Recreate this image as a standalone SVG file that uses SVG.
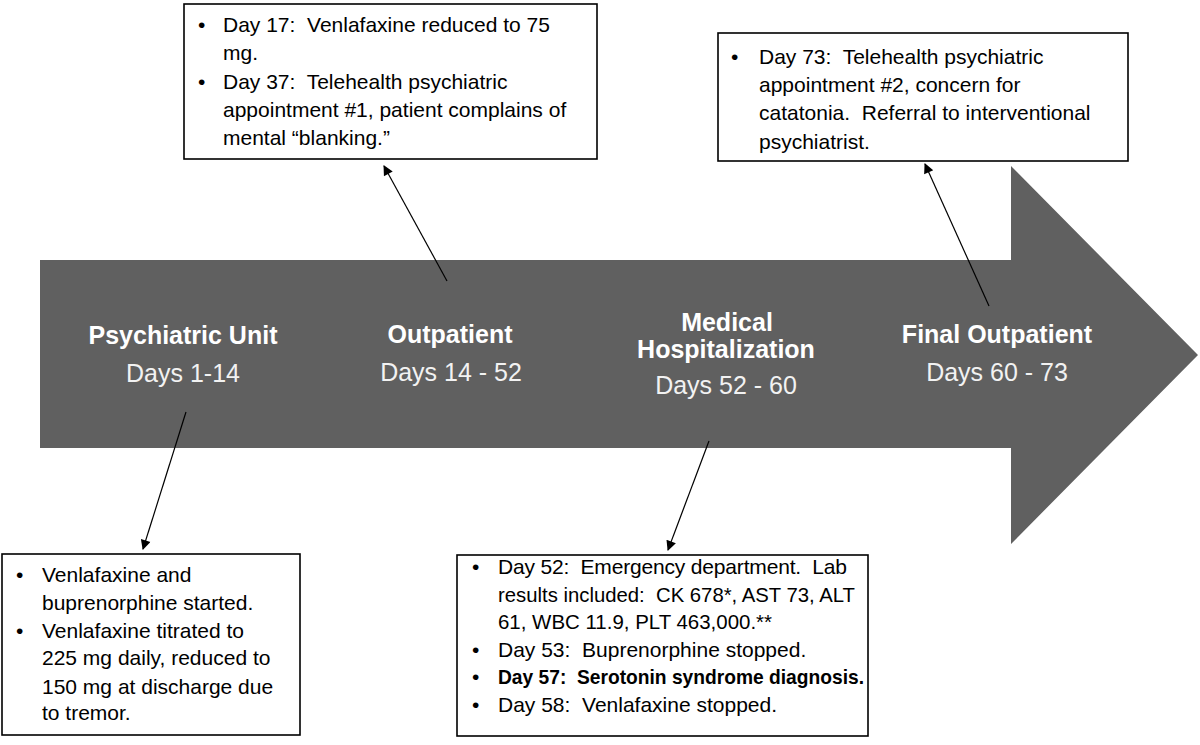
<svg xmlns="http://www.w3.org/2000/svg" width="1200" height="745" viewBox="0 0 1200 745">
<style>
.box{fill:#fff;stroke:#000;stroke-width:1.6}
.t{font-family:"Liberation Sans",Arial,sans-serif;font-size:21px;fill:#000;white-space:pre}
.b{font-weight:bold}
.h{font-family:"Liberation Sans",Arial,sans-serif;font-size:25px;font-weight:bold;fill:#fff;text-anchor:middle}
.d{font-family:"Liberation Sans",Arial,sans-serif;font-size:25px;fill:#f2f2f2;text-anchor:middle}
.c{stroke:#000;stroke-width:1.2;fill:none;marker-end:url(#ah)}
</style>
<defs>
<marker id="ah" viewBox="0 0 10 10" refX="9" refY="5" markerWidth="13" markerHeight="10" markerUnits="userSpaceOnUse" orient="auto">
<path d="M0,0 L10,5 L0,10 z" fill="#000"/>
</marker>
</defs>
<rect width="1200" height="745" fill="#fff"/>
<g id="timeline">
<polygon points="40,260 1011,260 1011,166 1198,355 1011,544 1011,448 40,448" fill="#606060"/>
<text class="h" x="183" y="344">Psychiatric Unit</text>
<text class="d" x="183" y="382">Days 1-14</text>
<text class="h" x="450" y="343">Outpatient</text>
<text class="d" x="451" y="381">Days 14 - 52</text>
<text class="h" x="727" y="331">Medical</text>
<text class="h" x="726" y="358">Hospitalization</text>
<text class="d" x="726" y="394">Days 52 - 60</text>
<text class="h" x="997" y="343">Final Outpatient</text>
<text class="d" x="997" y="381">Days 60 - 73</text>
</g>
<g id="connectors">
<line class="c" x1="447" y1="281" x2="384" y2="166"/>
<line class="c" x1="989" y1="306" x2="925" y2="164"/>
<line class="c" x1="186" y1="412" x2="143" y2="549"/>
<line class="c" x1="709" y1="441" x2="668" y2="550"/>
</g>
<g id="box-outpatient">
<rect class="box" x="184" y="4" width="413" height="155"/>
<text class="t" x="198" y="32">•</text><text class="t" x="223" y="32">Day 17:  Venlafaxine reduced to 75</text>
<text class="t" x="223" y="60">mg.</text>
<text class="t" x="198" y="89">•</text><text class="t" x="223" y="89">Day 37:  Telehealth psychiatric</text>
<text class="t" x="223" y="117">appointment #1, patient complains of</text>
<text class="t" x="223" y="145">mental “blanking.”</text>
</g>
<g id="box-final">
<rect class="box" x="718" y="33" width="410" height="128"/>
<text class="t" x="731" y="64">•</text><text class="t" x="759" y="64">Day 73:  Telehealth psychiatric</text>
<text class="t" x="759" y="92">appointment #2, concern for</text>
<text class="t" x="759" y="120">catatonia.  Referral to interventional</text>
<text class="t" x="759" y="149">psychiatrist.</text>
</g>
<g id="box-psych">
<rect class="box" x="2" y="554" width="298" height="181"/>
<text class="t" x="16" y="582">•</text><text class="t" x="42" y="582">Venlafaxine and</text>
<text class="t" x="42" y="610">buprenorphine started.</text>
<text class="t" x="16" y="638">•</text><text class="t" x="42" y="638">Venlafaxine titrated to</text>
<text class="t" x="42" y="665">225 mg daily, reduced to</text>
<text class="t" x="42" y="694">150 mg at discharge due</text>
<text class="t" x="42" y="720">to tremor.</text>
</g>
<g id="box-medical">
<rect class="box" x="457" y="555" width="411" height="181"/>
<text class="t" x="472" y="574">•</text><text class="t" x="498" y="574" textLength="349" lengthAdjust="spacing">Day 52:  Emergency department.  Lab</text>
<text class="t" x="498" y="602" textLength="357" lengthAdjust="spacingAndGlyphs">results included:  CK 678*, AST 73, ALT</text>
<text class="t" x="498" y="629" textLength="274" lengthAdjust="spacingAndGlyphs">61, WBC 11.9, PLT 463,000.**</text>
<text class="t" x="472" y="657">•</text><text class="t" x="498" y="657">Day 53:  Buprenorphine stopped.</text>
<text class="t" x="472" y="684">•</text><text class="t b" x="498" y="684" textLength="366" lengthAdjust="spacingAndGlyphs">Day 57:  Serotonin syndrome diagnosis.</text>
<text class="t" x="472" y="712">•</text><text class="t" x="498" y="712">Day 58:  Venlafaxine stopped.</text>
</g>
</svg>
